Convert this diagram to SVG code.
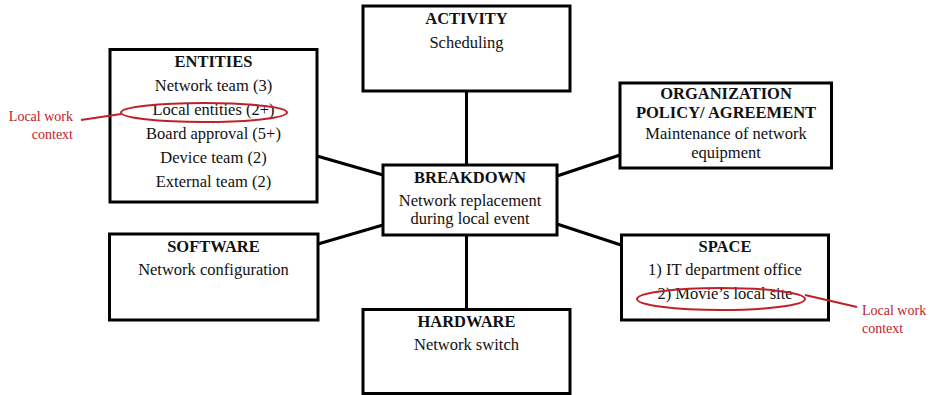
<svg xmlns="http://www.w3.org/2000/svg" width="935" height="395" viewBox="0 0 935 395">
  <style>
    .box { fill: #ffffff; stroke: #000000; stroke-width: 3; }
    .link { stroke: #000000; stroke-width: 3; fill: none; }
    .head { font-family: "Liberation Serif", "Times New Roman", serif; font-size: 16.5px; font-weight: bold; fill: #111111; text-anchor: middle; }
    .body { font-family: "Liberation Serif", "Times New Roman", serif; font-size: 16.5px; fill: #111111; text-anchor: middle; }
    .mark { fill: none; stroke: #c0202a; stroke-width: 2; }
    .note { font-family: "Liberation Serif", "Times New Roman", serif; font-size: 14px; fill: #c0202a; }
  </style>
  <rect width="935" height="395" fill="#ffffff"/>

  <!-- connectors between the central node and the six facets -->
  <g id="connectors">
    <line class="link" x1="466.5" y1="91" x2="466.5" y2="165"/>
    <line class="link" x1="466.5" y1="235" x2="466.5" y2="309"/>
    <line class="link" x1="317" y1="156" x2="383" y2="175"/>
    <line class="link" x1="318" y1="244" x2="383" y2="225"/>
    <line class="link" x1="557" y1="176" x2="620" y2="155"/>
    <line class="link" x1="557" y1="224" x2="621" y2="245"/>
  </g>

  <g id="activity">
    <rect class="box" x="363" y="6" width="207" height="85"/>
    <text class="head" x="466.5" y="24">ACTIVITY</text>
    <text class="body" x="466.5" y="47.5">Scheduling</text>
  </g>

  <g id="entities">
    <rect class="box" x="110" y="49.5" width="207" height="152.5"/>
    <text class="head" x="213.5" y="67">ENTITIES</text>
    <text class="body" x="213.5" y="91">Network team (3)</text>
    <text class="body" x="213.5" y="115">Local entities (2+)</text>
    <text class="body" x="213.5" y="139">Board approval (5+)</text>
    <text class="body" x="213.5" y="163">Device team (2)</text>
    <text class="body" x="213.5" y="187">External team (2)</text>
  </g>

  <g id="organization">
    <rect class="box" x="620" y="83" width="211.5" height="85"/>
    <text class="head" x="726" y="98.5">ORGANIZATION</text>
    <text class="head" x="726" y="118">POLICY/ AGREEMENT</text>
    <text class="body" x="726" y="138.5">Maintenance of network</text>
    <text class="body" x="726" y="157.5">equipment</text>
  </g>

  <g id="breakdown">
    <rect class="box" x="383" y="165" width="174" height="70"/>
    <text class="head" x="470" y="182.5">BREAKDOWN</text>
    <text class="body" x="470" y="206">Network replacement</text>
    <text class="body" x="470" y="223.5">during local event</text>
  </g>

  <g id="software">
    <rect class="box" x="109.5" y="234" width="208.5" height="86"/>
    <text class="head" x="213.5" y="251.5">SOFTWARE</text>
    <text class="body" x="213.5" y="275">Network configuration</text>
  </g>

  <g id="space">
    <rect class="box" x="621.5" y="235" width="207" height="85"/>
    <text class="head" x="725" y="251.5">SPACE</text>
    <text class="body" x="725" y="275">1) IT department office</text>
    <text class="body" x="725" y="299">2) Movie’s local site</text>
  </g>

  <g id="hardware">
    <rect class="box" x="363" y="309.5" width="207" height="84"/>
    <text class="head" x="466.5" y="326.5">HARDWARE</text>
    <text class="body" x="466.5" y="350">Network switch</text>
  </g>

  <!-- red annotations marking the local work context -->
  <g id="note-entities">
    <ellipse class="mark" cx="204" cy="112.5" rx="83" ry="9.5"/>
    <line class="mark" x1="81" y1="120" x2="121" y2="114"/>
    <text class="note" x="73" y="121" text-anchor="end">Local work</text>
    <text class="note" x="73" y="139" text-anchor="end">context</text>
  </g>

  <g id="note-space">
    <ellipse class="mark" cx="721" cy="299" rx="84" ry="11"/>
    <line class="mark" x1="805" y1="295" x2="857" y2="307"/>
    <text class="note" x="862" y="315">Local work</text>
    <text class="note" x="862" y="333">context</text>
  </g>
</svg>
